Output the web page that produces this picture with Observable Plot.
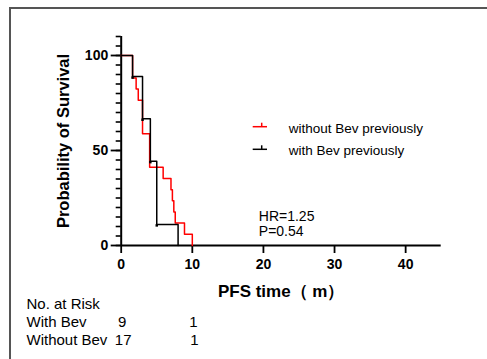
<!DOCTYPE html>
<html><head><meta charset="utf-8">
<script src="https://cdn.jsdelivr.net/npm/d3@7"></script>
<script src="https://cdn.jsdelivr.net/npm/@observablehq/plot@0.6"></script>
<style>
body{margin:0;background:#fff;}
#wrap{position:relative;width:487px;height:359px;overflow:hidden;font-family:"Liberation Sans",Arial,sans-serif;}
#wrap svg{position:absolute;left:0;top:0;}
#border{position:absolute;left:9px;top:7px;width:520px;height:420px;border-top:2px solid #555;border-left:2px solid #555;}
</style></head><body><div id="wrap"><div id="border"></div></div>
<script>
const withTimes = [0, 1.6, 3.0, 4.1, 5.0, 8.0];
const withSurv = [100, 88.9, 66.7, 44.4, 11.1, 0];
const withoutTimes = [0, 1.6, 2.1, 2.4, 3.0, 4.0, 5.9, 7.0, 7.2, 7.4, 7.6, 8.9, 10.0];
const withoutSurv = [100, 88.2, 82.4, 76.5, 58.8, 41.2, 35.3, 29.4, 23.5, 17.6, 11.8, 5.9, 0];
const xTicks = [0, 10, 20, 30, 40];
const yTicks = [0, 50, 100];
const yMinor = [0,5,10,15,20,25,30,35,40,45,50,55,60,65,70,75,80,85,90,95,100,105,110];
const riskTimes = [0, 10];
const riskWith = [9, 1];
const riskWithout = [17, 1];
const riskRows = ["With Bev", "Without Bev"];
const seriesNames = ["without Bev previously", "with Bev previously"];
const seriesColors = ["#ff0000", "#000000"];
const stats = ["HR=1.25", "P=0.54"];

const withData = withTimes.map((t, i) => ({t, s: withSurv[i]}));
const withoutData = withoutTimes.map((t, i) => ({t, s: withoutSurv[i]}));
const withCorners = withData.slice(1, -1);
const font = '"Liberation Sans", Arial, sans-serif';

const plot = Plot.plot({
  width: 487, height: 359,
  marginLeft: 120.7, marginRight: 46.3, marginTop: 36, marginBottom: 114,
  style: {fontFamily: font, background: "transparent", overflow: "visible"},
  x: {domain: [0, 45], label: null},
  y: {domain: [0, 110], label: null},
  marks: [
    Plot.axisY(yMinor, {tickSize: 5, tickFormat: () => "", strokeWidth: 1.6, label: null}),
    Plot.axisY(yTicks, {tickSize: 10, tickPadding: 3, fontSize: 14, fontWeight: "bold", fill: "#000", strokeWidth: 1.8, label: null}),
    Plot.axisX(xTicks, {tickSize: 8, tickPadding: 6, fontSize: 14, fontWeight: "bold", fill: "#000", strokeWidth: 1.8, label: null}),
    Plot.ruleX([0], {y1: 0, y2: 110, strokeWidth: 2}),
    Plot.ruleY([0], {x1: 0, x2: 45, strokeWidth: 2}),
    Plot.line(withoutData, {x: "t", y: "s", curve: "step-after", stroke: seriesColors[0], strokeWidth: 1.5}),
    Plot.line(withData, {x: "t", y: "s", curve: "step-after", stroke: seriesColors[1], strokeWidth: 1.5}),
    Plot.dot(withCorners, {x: "t", y: "s", r: 1.4, fill: "#000", symbol: "square", dy: 1}),
    // axis titles
    Plot.text(["PFS time（ m）"], {frameAnchor: "bottom", dy: 46, fontSize: 17, fontWeight: "bold", fill: "#000", lineAnchor: "middle"}),
    Plot.text(["Probability of Survival"], {frameAnchor: "left", dx: -57, rotate: -90, fontSize: 16.5, fontWeight: "bold", fill: "#000", lineAnchor: "middle", textAnchor: "middle"}),
    // legend labels
    Plot.text([seriesNames[0]], {frameAnchor: "top-left", dx: 167.6, dy: 92, fontSize: 13.5, fill: "#000", textAnchor: "start", lineAnchor: "middle"}),
    Plot.text([seriesNames[1]], {frameAnchor: "top-left", dx: 167.6, dy: 114.5, fontSize: 13.5, fill: "#000", textAnchor: "start", lineAnchor: "middle"}),
    // stats
    Plot.text([stats[0]], {frameAnchor: "top-left", dx: 137.6, dy: 180, fontSize: 14, fill: "#000", textAnchor: "start", lineAnchor: "middle"}),
    Plot.text([stats[1]], {frameAnchor: "top-left", dx: 137.6, dy: 195.5, fontSize: 14, fill: "#000", textAnchor: "start", lineAnchor: "middle"}),
    // risk table
    Plot.text(["No. at Risk"], {frameAnchor: "bottom-left", dx: -94.7, dy: 59, fontSize: 15, fill: "#000", textAnchor: "start", lineAnchor: "middle"}),
    Plot.text([riskRows[0]], {frameAnchor: "bottom-left", dx: -94.7, dy: 77, fontSize: 15, fill: "#000", textAnchor: "start", lineAnchor: "middle"}),
    Plot.text([riskRows[1]], {frameAnchor: "bottom-left", dx: -94.7, dy: 95, fontSize: 15, fill: "#000", textAnchor: "start", lineAnchor: "middle"}),
    Plot.text(riskTimes, {x: d => d, text: (d, i) => String(riskWith[i]), frameAnchor: "bottom", dy: 77, dx: 1, fontSize: 15, fill: "#000", textAnchor: "middle", lineAnchor: "middle"}),
    Plot.text(riskTimes, {x: d => d, text: (d, i) => String(riskWithout[i]), frameAnchor: "bottom", dy: 95, dx: 2, fontSize: 15, fill: "#000", textAnchor: "middle", lineAnchor: "middle"})
  ]
});

// legend line samples
const svg = d3.select(plot);
const legY = [126.7, 149.3];
legY.forEach((y, i) => {
  svg.append("line").attr("x1", 252.7).attr("x2", 267).attr("y1", y).attr("y2", y)
    .attr("stroke", seriesColors[i]).attr("stroke-width", 1.5);
  svg.append("line").attr("x1", 261.7).attr("x2", 261.7).attr("y1", y - 4).attr("y2", y)
    .attr("stroke", seriesColors[i]).attr("stroke-width", 1.5);
});
document.getElementById("wrap").appendChild(plot);
</script>
</body></html>
